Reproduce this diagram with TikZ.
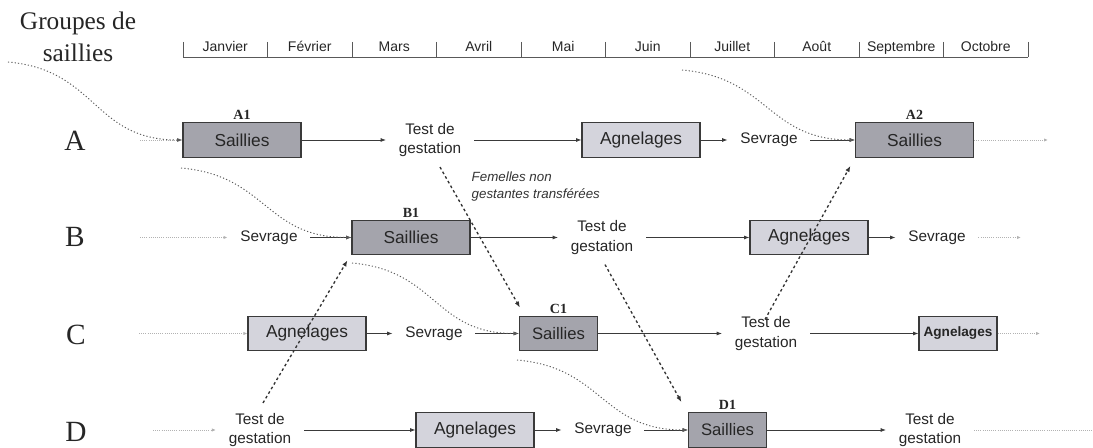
\documentclass[tikz,border=0pt]{standalone}
\usepackage{fontspec}
\setsansfont{Liberation Sans}
\newfontfamily\grpfont{Liberation Serif}
\usetikzlibrary{arrows.meta,positioning}

\definecolor{sailfill}{HTML}{A4A4AC}
\definecolor{agnfill}{HTML}{D4D4DC}
\definecolor{linegray}{HTML}{3A3A3A}

\begin{document}
\begin{tikzpicture}[x=0.75pt,y=-0.75pt,
  box/.style={draw=linegray, line width=0.9pt, minimum height=26pt, inner sep=0pt,
    font=\sffamily\fontsize{13}{15}\selectfont, text=black!85},
  sail/.style={box, fill=sailfill, minimum width=88.5pt},
  sailn/.style={box, fill=sailfill, minimum width=58.5pt, font=\sffamily\fontsize{12.5}{15}\selectfont},
  agn/.style={box, fill=agnfill, minimum width=88.5pt},
  agnn/.style={box, fill=agnfill, minimum width=58.5pt, font=\sffamily\bfseries\fontsize{10.2}{12}\selectfont},
  txt/.style={font=\sffamily\fontsize{11.5}{14.5}\selectfont, align=center, inner xsep=9.5pt,
    inner ysep=0pt, text=black!85},
  lab/.style={font=\grpfont\bfseries\fontsize{10.5}{12}\selectfont, inner sep=1.5pt, text=black!85},
  grp/.style={font=\grpfont\fontsize{22}{26}\selectfont, text=black!85},
  flow/.style={-{Latex[length=4pt,width=3pt]}, line width=0.6pt, linegray},
  faint/.style={-{Latex[length=3pt,width=2.5pt]}, densely dotted, line width=0.6pt, gray!60},
  swing/.style={-{Latex[length=4pt,width=3pt]}, dash pattern=on 0.9pt off 1.6pt, line width=0.7pt, black!65},
  diag/.style={-{Latex[length=4.5pt,width=3.5pt]}, dash pattern=on 2pt off 2pt, line width=1pt, black!80}]
\useasboundingbox (0,0) rectangle (1093,448);

% title and month scale
\node[font=\grpfont\fontsize{19}{24}\selectfont, align=center, text=black!85] (titre) at (78,37) {Groupes de\\saillies};
\draw[line width=0.6pt, black!65] (183,57) -- (1028,57);
\foreach \k in {0,...,10} {
  \draw[line width=0.6pt, black!65] (183+84.5*\k,42) -- (183+84.5*\k,57);
}
\foreach \m [count=\i] in {Janvier,Février,Mars,Avril,Mai,Juin,Juillet,Août,Septembre,Octobre} {
  \node[font=\sffamily\fontsize{10.5}{12}\selectfont, text=black!85, anchor=base] (mois\i) at (183+84.5*\i-42.25,52) {\m};
}

% group letters
\node[grp] (ga) at (75,141) {A};
\node[grp] (gb) at (75,237) {B};
\node[grp] (gc) at (76,335) {C};
\node[grp] (gd) at (76,432) {D};

% row A
\coordinate (a0) at (140,140);
\node[sail, label={[lab]above:A1}] (a1) at (242,140) {Saillies};
\node[txt] (testa) at (430,140) {Test de\\gestation};
\node[agn] (agna) at (641,140) {Agnelages};
\node[txt] (seva) at (769,140) {Sevrage};
\node[sail, label={[lab]above:A2}] (a2) at (914.5,140) {Saillies};
\coordinate (aend) at (1048,140);
\draw[faint] (a0) -- (a1);
\draw[flow] (a1) -- (testa);
\draw[flow] (testa) -- (agna);
\draw[flow] (agna) -- (seva);
\draw[flow] (seva) -- (a2);
\draw[faint] (a2) -- (aend);

% row B
\coordinate (b0) at (140,237.5);
\node[txt] (sevb) at (269,237.5) {Sevrage};
\node[sail, label={[lab]above:B1}] (b1) at (411,237.5) {Saillies};
\node[txt] (testb) at (602,237.5) {Test de\\gestation};
\node[agn] (agnb) at (809,237.5) {Agnelages};
\node[txt] (sevb2) at (937,237.5) {Sevrage};
\coordinate (bend) at (1021,237.5);
\draw[faint] (b0) -- (sevb);
\draw[flow] (sevb) -- (b1);
\draw[flow] (b1) -- (testb);
\draw[flow] (testb) -- (agnb);
\draw[flow] (agnb) -- (sevb2);
\draw[faint] (sevb2) -- (bend);

% row C
\coordinate (c0) at (139,333.5);
\node[agn] (agnc) at (307,333.5) {Agnelages};
\node[txt] (sevc) at (434,333.5) {Sevrage};
\node[sailn, label={[lab]above:C1}] (c1) at (558.5,333.5) {Saillies};
\node[txt] (testc) at (766,333.5) {Test de\\gestation};
\node[agnn] (agnc2) at (958,333.5) {Agnelages};
\coordinate (cend) at (1040,333.5);
\draw[faint] (c0) -- (agnc);
\draw[flow] (agnc) -- (sevc);
\draw[flow] (sevc) -- (c1);
\draw[flow] (c1) -- (testc);
\draw[flow] (testc) -- (agnc2);
\draw[faint] (agnc2) -- (cend);

% row D
\coordinate (d0) at (153,430);
\node[txt] (testd) at (260,430) {Test de\\gestation};
\node[agn] (agnd) at (475,430) {Agnelages};
\node[txt] (sevd) at (603,430) {Sevrage};
\node[sailn, label={[lab]above:D1}] (d1) at (727.5,430) {Saillies};
\node[txt] (testd2) at (930,430) {Test de\\gestation};
\coordinate (dend) at (1093,430);
\draw[faint] (d0) -- (testd);
\draw[flow] (testd) -- (agnd);
\draw[flow] (agnd) -- (sevd);
\draw[flow] (sevd) -- (d1);
\draw[flow] (d1) -- (testd2);
\draw[faint, -] (testd2) -- (dend);

% next groups joining the matings
\coordinate (sa) at (8,62);
\coordinate (sb) at (181,168);
\coordinate (sc) at (352,263);
\coordinate (sd) at (517,360);
\coordinate (se) at (682,70);
\draw[swing] (sa) to[out=-5,in=180,looseness=1.2] (a1.west);
\draw[swing] (sb) to[out=-5,in=180,looseness=1.2] (b1.west);
\draw[swing] (sc) to[out=-5,in=180,looseness=1.2] (c1.west);
\draw[swing] (sd) to[out=-5,in=180,looseness=1.2] (d1.west);
\draw[swing] (se) to[out=-5,in=180,looseness=1.2] (a2.west);

% transfers after pregnancy test
\draw[diag] ([shift={(10,10)}]testa.south) -- ([shift={(1,-8)}]c1.north west);
\node[font=\sffamily\itshape\fontsize{10}{12.8}\selectfont, align=left, anchor=west, text=black!80] (transfert) at (467,186.5) {Femelles non\\gestantes transférées};
\draw[diag] ([shift={(3,10)}]testb.south) -- ([shift={(-6.5,-10)}]d1.north west);
\draw[diag] ([shift={(3,-10)}]testd.north) -- ([shift={(-4,5)}]b1.south west);
\draw[diag] ([shift={(-1,3)}]testc.north) -- ([shift={(-4.5,8)}]a2.south west);
\end{tikzpicture}
\end{document}
